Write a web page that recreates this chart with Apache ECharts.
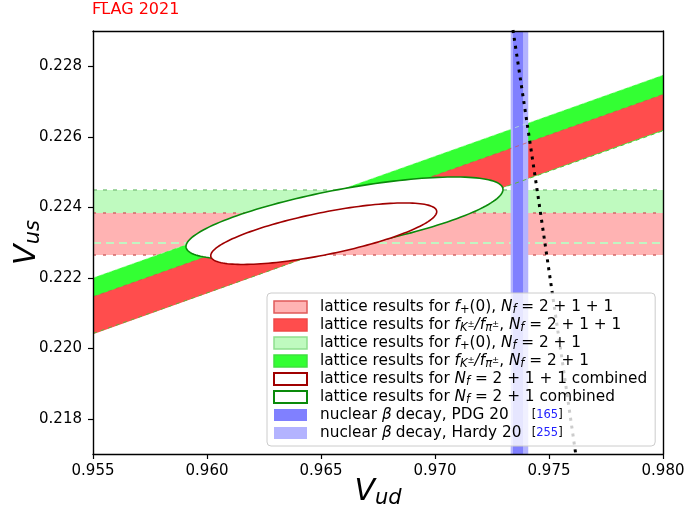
<!DOCTYPE html>
<html>
<head>
<meta charset="utf-8">
<script src="https://cdn.jsdelivr.net/npm/echarts@6.0.0/dist/echarts.min.js"></script>
<style>
  html, body { margin: 0; padding: 0; background: #fff; }
  #main { width: 685px; height: 517px; }
</style>
</head>
<body>
<div id="main"></div>
<script>
// axis ranges and ticks
var xRange = [0.955, 0.980];
var yRange = [0.217, 0.229];
var yTicks = [0.218, 0.220, 0.222, 0.224, 0.226, 0.228];

// f+(0) results: Vus band [low, high]
var fp2111 = [0.222645, 0.223837];
var fp21 = [0.222986, 0.224489];

// fK/fpi results: band edges, Vus at Vud = 0.955 and 0.980
var bandVud = [0.955, 0.980];
var fk2111Lo = [0.22040, 0.22619];
var fk2111Hi = [0.22146, 0.22720];
var fk21Lo = [0.22042, 0.22617];
var fk21Hi = [0.22200, 0.22775];

// combined fits: centre, half axis (dVud, dVus), half height at centre
var comb2111C = [0.96512, 0.22325];
var comb2111A = [0.004956, 0.000624];
var comb2111H = 0.00061;
var comb21C = [0.96603, 0.223695];
var comb21A = [0.006952, 0.000809];
var comb21H = 0.000837;

// nuclear beta decay, Vud [low, high]
var pdg20 = [0.97342, 0.97386];
var hardy20 = [0.97332, 0.97409];

// unitarity line Vud^2 + Vus^2 = 1
var uniVud = [0.97342, 0.97400, 0.97450, 0.97500, 0.97560, 0.97617];
var uniVus = [0.22903, 0.22655, 0.22440, 0.22220, 0.21956, 0.21701];

var names = [
  'f+(0) 2+1+1', 'fK/fpi 2+1+1', 'f+(0) 2+1', 'fK/fpi 2+1',
  'comb 2+1+1', 'comb 2+1', 'PDG 20', 'Hardy 20'
];
var labels = {
  'f+(0) 2+1+1': 'lattice results for {i|f}{sb|+}(0), {i|N}{si|f} = 2 + 1 + 1',
  'fK/fpi 2+1+1': 'lattice results for {i|f}{si|K}{sp|±}{i|/f}{si|π}{sp|±}, {i|N}{si|f} = 2 + 1 + 1',
  'f+(0) 2+1': 'lattice results for {i|f}{sb|+}(0), {i|N}{si|f} = 2 + 1',
  'fK/fpi 2+1': 'lattice results for {i|f}{si|K}{sp|±}{i|/f}{si|π}{sp|±}, {i|N}{si|f} = 2 + 1',
  'comb 2+1+1': 'lattice results for {i|N}{si|f} = 2 + 1 + 1 combined',
  'comb 2+1': 'lattice results for {i|N}{si|f} = 2 + 1 combined',
  'PDG 20': 'nuclear {i|β}{w|decay, PDG 20}{br|[}{ref|165}{br|]}',
  'Hardy 20': 'nuclear {i|β}{w|decay, Hardy 20}{br|[}{ref|255}{br|]}'
};

function polySeries(name, pts, fill, z) {
  return {
    type: 'custom', name: name, z: z, silent: true,
    data: [[xRange[0], yRange[0]]],
    renderItem: function (params, api) {
      return {
        type: 'polygon',
        shape: { points: pts.map(function (q) { return api.coord(q); }) },
        style: { fill: fill }
      };
    }
  };
}

function ellipseSeries(name, c, a, h, stroke, z) {
  return {
    type: 'custom', name: name, z: z, silent: true,
    data: [[c[0], c[1]]],
    renderItem: function (params, api) {
      var pts = [];
      for (var i = 0; i < 160; i++) {
        var t = i / 160 * 2 * Math.PI;
        pts.push(api.coord([c[0] + a[0] * Math.cos(t),
                            c[1] + a[1] * Math.cos(t) + h * Math.sin(t)]));
      }
      return {
        type: 'polygon',
        shape: { points: pts },
        style: { fill: '#ffffff', stroke: stroke, lineWidth: 1.6 }
      };
    }
  };
}

function lineSeries(pts, color, dash, width, z) {
  return {
    type: 'line', data: pts, z: z, silent: true,
    symbol: 'none', smooth: false,
    lineStyle: { color: color, type: dash, width: width }
  };
}

function hBand(b) {
  return [[xRange[0], b[0]], [xRange[1], b[0]], [xRange[1], b[1]], [xRange[0], b[1]]];
}
function vBand(b) {
  return [[b[0], yRange[0]], [b[1], yRange[0]], [b[1], yRange[1]], [b[0], yRange[1]]];
}
function sBand(lo, hi) {
  return [[bandVud[0], lo[0]], [bandVud[1], lo[1]], [bandVud[1], hi[1]], [bandVud[0], hi[0]]];
}
function edge(v) {
  return [[bandVud[0], v[0]], [bandVud[1], v[1]]];
}

var uniPts = uniVud.map(function (v, i) { return [v, uniVus[i]]; });

var series = [
  polySeries(names[2], hBand(fp21), '#bffabf', 2),
  lineSeries([[xRange[0], fp21[1]], [xRange[1], fp21[1]]], '#86c986', [4, 6], 1.3, 3),
  polySeries(names[0], hBand(fp2111), '#ffb3b3', 4),
  lineSeries([[xRange[0], fp2111[1]], [xRange[1], fp2111[1]]], '#d46a6a', [3, 7], 1.5, 5),
  lineSeries([[xRange[0], fp2111[0]], [xRange[1], fp2111[0]]], '#d46a6a', [3, 7], 1.5, 5),
  lineSeries([[xRange[0], fp21[0]], [xRange[1], fp21[0]]], '#c2f5c2', [8, 5], 2, 5),
  polySeries(names[3], sBand(fk21Lo, fk21Hi), '#33ff33', 6),
  polySeries(names[1], sBand(fk2111Lo, fk2111Hi), '#ff4d4d', 7),
  polySeries(names[7], vBand(hardy20), '#b3b3ff', 10),
  polySeries(names[6], vBand(pdg20), '#8080ff', 11),
  lineSeries(edge(fk21Hi), 'rgba(200,255,200,0.6)', [4, 4], 1, 12),
  lineSeries(edge(fk21Lo), '#5cb83a', [4, 4], 1, 12),
  lineSeries(edge(fk2111Hi), 'rgba(210,80,80,0.7)', [4, 4], 1, 12),
  ellipseSeries(names[5], comb21C, comb21A, comb21H, '#0a8a0a', 14),
  ellipseSeries(names[4], comb2111C, comb2111A, comb2111H, '#a00000', 15),
  lineSeries(uniPts, '#000000', [3, 5], 3, 16)
];

var chart = echarts.init(document.getElementById('main'));
chart.setOption({
  animation: false,
  backgroundColor: '#ffffff',
  textStyle: { fontFamily: 'DejaVu Sans' },
  title: {
    text: 'FLAG 2021', left: 92, top: 2, padding: 0,
    textStyle: { color: '#ff0000', fontSize: 16, fontWeight: 'normal', fontFamily: 'DejaVu Sans' }
  },
  graphic: [{
    type: 'line', shape: { x1: 94, y1: 2.5, x2: 108, y2: 2.5 },
    style: { stroke: '#ff0000', lineWidth: 1 }
  }],
  grid: { left: 93, right: 22, top: 31, bottom: 63, containLabel: false, outerBoundsMode: 'none' },
  xAxis: [{
    type: 'value', min: xRange[0], max: xRange[1], interval: 0.005,
    name: '{v|V}{s|ud}', nameLocation: 'middle', nameGap: 21, nameMoveOverlap: false,
    nameTextStyle: {
      rich: {
        v: { fontSize: 30, fontStyle: 'italic', fontFamily: 'DejaVu Sans', color: '#000', lineHeight: 34 },
        s: { fontSize: 21, fontStyle: 'italic', fontFamily: 'DejaVu Sans', color: '#000', verticalAlign: 'bottom', lineHeight: 21 }
      }
    },
    axisLine: { lineStyle: { color: '#000', width: 1.4 } },
    axisTick: { length: 5, lineStyle: { color: '#000', width: 1.2 } },
    axisLabel: {
      margin: 10, fontSize: 15, color: '#000', fontFamily: 'DejaVu Sans',
      formatter: function (v) { return v.toFixed(3); }
    },
    splitLine: { show: false }, z: 30
  }, {
    type: 'value', min: xRange[0], max: xRange[1], position: 'top',
    axisLine: { lineStyle: { color: '#000', width: 1.4 } },
    axisTick: { show: false }, axisLabel: { show: false }, splitLine: { show: false }, z: 30
  }],
  yAxis: [{
    type: 'value', min: yRange[0], max: yRange[1], interval: 0.001,
    name: '{v|V}{s|us}', nameLocation: 'middle', nameGap: 49, nameRotate: 90, nameMoveOverlap: false,
    nameTextStyle: {
      rich: {
        v: { fontSize: 30, fontStyle: 'italic', fontFamily: 'DejaVu Sans', color: '#000', lineHeight: 34 },
        s: { fontSize: 21, fontStyle: 'italic', fontFamily: 'DejaVu Sans', color: '#000', verticalAlign: 'bottom', lineHeight: 21 }
      }
    },
    axisLine: { show: true, lineStyle: { color: '#000', width: 1.4 } },
    axisTick: { show: true, length: 5, customValues: yTicks, lineStyle: { color: '#000', width: 1.2 } },
    axisLabel: {
      margin: 11, fontSize: 15, color: '#000', fontFamily: 'DejaVu Sans',
      customValues: yTicks,
      formatter: function (v) { return v.toFixed(3); }
    },
    splitLine: { show: false }, z: 30
  }, {
    type: 'value', min: yRange[0], max: yRange[1], position: 'right',
    axisLine: { show: true, lineStyle: { color: '#000', width: 1.4 } },
    axisTick: { show: false }, axisLabel: { show: false }, splitLine: { show: false }, z: 30
  }],
  legend: {
    orient: 'vertical', left: 267, top: 293, z: 50,
    padding: [5, 8, 4, 6], itemGap: 0, itemWidth: 33, itemHeight: 12,
    selectedMode: false,
    backgroundColor: 'rgba(255,255,255,0.8)', borderColor: '#cccccc', borderWidth: 1, borderRadius: 4,
    icon: 'rect',
    data: [
      { name: names[0], itemStyle: { color: '#ffb3b3', borderColor: '#e05a5a', borderWidth: 1.5 } },
      { name: names[1], itemStyle: { color: '#ff4d4d', borderColor: '#f04848', borderWidth: 1.5 } },
      { name: names[2], itemStyle: { color: '#bffabf', borderColor: '#8fe08f', borderWidth: 1.5 } },
      { name: names[3], itemStyle: { color: '#33ff33', borderColor: '#40e040', borderWidth: 1.5 } },
      { name: names[4], itemStyle: { color: '#ffffff', borderColor: '#a00000', borderWidth: 2 } },
      { name: names[5], itemStyle: { color: '#ffffff', borderColor: '#0a8a0a', borderWidth: 2 } },
      { name: names[6], itemStyle: { color: '#8080ff', borderWidth: 0 } },
      { name: names[7], itemStyle: { color: '#b3b3ff', borderWidth: 0 } }
    ],
    formatter: function (name) { return labels[name]; },
    textStyle: {
      fontSize: 15.3, color: '#000', fontFamily: 'DejaVu Sans', lineHeight: 18,
      padding: [0, 0, 0, 8],
      rich: {
        i: { fontSize: 15.3, fontStyle: 'italic', fontFamily: 'DejaVu Sans' },
        sb: { fontSize: 11.5, verticalAlign: 'bottom', lineHeight: 11, fontFamily: 'DejaVu Sans' },
        si: { fontSize: 11.5, fontStyle: 'italic', verticalAlign: 'bottom', lineHeight: 11, fontFamily: 'DejaVu Sans' },
        sp: { fontSize: 8.5, verticalAlign: 'middle', lineHeight: 8, fontFamily: 'DejaVu Sans' },
        w: { fontSize: 15.3, width: 136, padding: [0, 0, 0, 4], fontFamily: 'DejaVu Sans' },
        br: { fontSize: 11.5, color: '#000', fontFamily: 'DejaVu Sans' },
        ref: { fontSize: 11.5, color: '#2222ff', fontFamily: 'DejaVu Sans' }
      }
    }
  },
  series: series
});
</script>
</body>
</html>
